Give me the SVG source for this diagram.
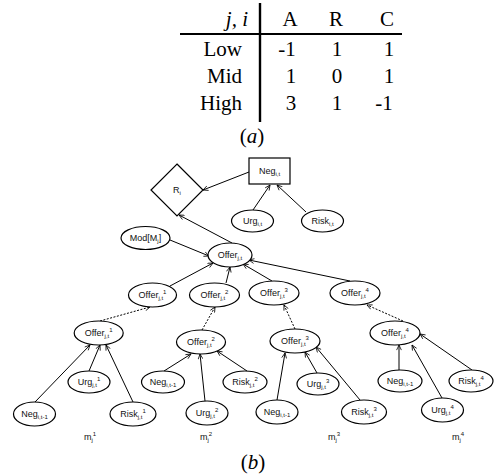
<svg xmlns="http://www.w3.org/2000/svg" width="495" height="476" viewBox="0 0 495 476">
<style>
.tb{font-family:"Liberation Serif","Times New Roman",serif;font-size:21px;fill:#000}
.cap{font-family:"Liberation Serif","Times New Roman",serif;font-size:21px;font-style:italic;fill:#000}
.n{fill:#fff;stroke:#000;stroke-width:1.2}
.t{font-family:"Liberation Sans",Arial,sans-serif;font-size:9px;fill:#111;text-anchor:middle}
.s{font-size:6px}
.e{fill:none;stroke:#000;stroke-width:1;marker-end:url(#ah)}
.d{stroke-dasharray:2,1.5}
</style>
<defs>
<marker id="ah" viewBox="0 0 10 10" refX="9.5" refY="5" markerWidth="6" markerHeight="6" orient="auto">
<path d="M1,1 L9.5,5 L1,9" fill="none" stroke="#000" stroke-width="1.3"/>
</marker>
</defs>
<g id="table">
<line x1="260" y1="3" x2="260" y2="122" stroke="#000" stroke-width="2.4"/>
<line x1="180" y1="34" x2="402" y2="34" stroke="#000" stroke-width="2.2"/>
<text class="cap" x="248" y="26" text-anchor="end">j, i</text>
<text class="tb" x="290" y="26" text-anchor="middle">A</text>
<text class="tb" x="336" y="26" text-anchor="middle">R</text>
<text class="tb" x="387" y="26" text-anchor="middle">C</text>
<text class="tb" x="242" y="56" text-anchor="end">Low</text>
<text class="tb" x="242" y="83" text-anchor="end">Mid</text>
<text class="tb" x="242" y="110" text-anchor="end">High</text>
<text class="tb" x="287" y="56" text-anchor="middle">-1</text>
<text class="tb" x="291" y="83" text-anchor="middle">1</text>
<text class="tb" x="291" y="110" text-anchor="middle">3</text>
<text class="tb" x="337" y="56" text-anchor="middle">1</text>
<text class="tb" x="337" y="83" text-anchor="middle">0</text>
<text class="tb" x="337" y="110" text-anchor="middle">1</text>
<text class="tb" x="389" y="56" text-anchor="middle">1</text>
<text class="tb" x="389" y="83" text-anchor="middle">1</text>
<text class="tb" x="384" y="110" text-anchor="middle">-1</text>
<text class="tb" x="252" y="143" text-anchor="middle">(<tspan font-style="italic">a</tspan>)</text>
</g>
<g id="connectors">
<line class="e" x1="249" y1="172" x2="203" y2="190"/>
<line class="e" x1="253" y1="210" x2="270" y2="185"/>
<line class="e" x1="306" y1="212" x2="277" y2="185"/>
<line class="e" x1="232" y1="243" x2="179" y2="215"/>
<line class="e" x1="170" y1="240" x2="209" y2="256"/>
<line class="e" x1="170" y1="286" x2="213" y2="263"/>
<line class="e" x1="226" y1="283" x2="230" y2="267"/>
<line class="e" x1="272" y1="281" x2="243" y2="264"/>
<line class="e" x1="350" y1="281" x2="249" y2="260"/>
<line class="e d" x1="100" y1="321" x2="150" y2="307"/>
<line class="e d" x1="202" y1="330" x2="215" y2="307"/>
<line class="e d" x1="295" y1="329" x2="284" y2="305"/>
<line class="e d" x1="403" y1="321" x2="367" y2="305"/>
<line class="e" x1="35" y1="402" x2="90" y2="345"/>
<line class="e" x1="89" y1="371" x2="100" y2="345"/>
<line class="e" x1="133" y1="402" x2="106" y2="345"/>
<line class="e" x1="164" y1="371" x2="191" y2="354"/>
<line class="e" x1="205" y1="401" x2="200" y2="354"/>
<line class="e" x1="247" y1="371" x2="217" y2="351"/>
<line class="e" x1="277" y1="400" x2="285" y2="353"/>
<line class="e" x1="317" y1="373" x2="305" y2="352"/>
<line class="e" x1="360" y1="400" x2="316" y2="347"/>
<line class="e" x1="399" y1="370" x2="399" y2="345"/>
<line class="e" x1="442" y1="398" x2="412" y2="345"/>
<line class="e" x1="472" y1="370" x2="420" y2="334"/>
</g>
<g id="neg_it"><rect class="n" x="249" y="158" width="41" height="26"/><text class="t" x="269.5" y="174">Neg<tspan class="s" dy="2">i,t</tspan></text></g>
<g id="R_i"><polygon class="n" points="177,164 203,190 177,216 151,190"/><text class="t" x="177" y="193">R<tspan class="s" dy="2">i</tspan></text></g>
<g id="urg_it"><ellipse class="n" cx="252.5" cy="221" rx="21" ry="11"/><text class="t" x="252.5" y="224">Urg<tspan class="s" dy="2">i,t</tspan></text></g>
<g id="risk_it"><ellipse class="n" cx="322.5" cy="221" rx="21" ry="11"/><text class="t" x="322.5" y="224">Risk<tspan class="s" dy="2">i,t</tspan></text></g>
<g id="mod"><ellipse class="n" cx="145.5" cy="238" rx="24.5" ry="11.5"/><text class="t" x="145.5" y="241">Mod[M<tspan class="s" dy="2">j</tspan><tspan dy="-2">]</tspan></text></g>
<g id="offer_jt"><ellipse class="n" cx="230" cy="255" rx="22" ry="12"/><text class="t" x="230" y="258">Offer<tspan class="s" dy="2">j,t</tspan></text></g>
<g id="o1"><ellipse class="n" cx="152.5" cy="295" rx="24" ry="12"/><text class="t" x="152.5" y="298">Offer<tspan class="s" dy="2">j,t</tspan><tspan class="s" dy="-6">1</tspan></text></g>
<g id="o2"><ellipse class="n" cx="214.5" cy="295" rx="25" ry="12"/><text class="t" x="214.5" y="298">Offer<tspan class="s" dy="2">j,t</tspan><tspan class="s" dy="-6">2</tspan></text></g>
<g id="o3"><ellipse class="n" cx="274" cy="293" rx="25" ry="12"/><text class="t" x="274" y="296">Offer<tspan class="s" dy="2">j,t</tspan><tspan class="s" dy="-6">3</tspan></text></g>
<g id="o4"><ellipse class="n" cx="355" cy="293" rx="25" ry="12"/><text class="t" x="355" y="296">Offer<tspan class="s" dy="2">j,t</tspan><tspan class="s" dy="-6">4</tspan></text></g>
<g id="p1"><ellipse class="n" cx="98.7" cy="333" rx="24.5" ry="12"/><text class="t" x="98.7" y="336">Offer<tspan class="s" dy="2">j,t</tspan><tspan class="s" dy="-6">1</tspan></text></g>
<g id="p2"><ellipse class="n" cx="201" cy="342" rx="24.5" ry="12"/><text class="t" x="201" y="345">Offer<tspan class="s" dy="2">j,t</tspan><tspan class="s" dy="-6">2</tspan></text></g>
<g id="p3"><ellipse class="n" cx="295" cy="341" rx="25" ry="12"/><text class="t" x="295" y="344">Offer<tspan class="s" dy="2">j,t</tspan><tspan class="s" dy="-6">3</tspan></text></g>
<g id="p4"><ellipse class="n" cx="395" cy="333" rx="25" ry="12"/><text class="t" x="395" y="336">Offer<tspan class="s" dy="2">j,t</tspan><tspan class="s" dy="-6">4</tspan></text></g>
<g id="neg1"><ellipse class="n" cx="34.5" cy="414" rx="21" ry="12"/><text class="t" x="34.5" y="417">Neg<tspan class="s" dy="2">i,t-1</tspan></text></g>
<g id="urg1"><ellipse class="n" cx="89" cy="382" rx="21" ry="11"/><text class="t" x="89" y="385">Urg<tspan class="s" dy="2">j,t</tspan><tspan class="s" dy="-6">1</tspan></text></g>
<g id="risk1"><ellipse class="n" cx="133" cy="414" rx="23" ry="12"/><text class="t" x="133" y="417">Risk<tspan class="s" dy="2">j,t</tspan><tspan class="s" dy="-6">1</tspan></text></g>
<g id="neg2"><ellipse class="n" cx="163" cy="382" rx="21.5" ry="11"/><text class="t" x="163" y="385">Neg<tspan class="s" dy="2">i,t-1</tspan></text></g>
<g id="urg2"><ellipse class="n" cx="207" cy="413" rx="21" ry="12"/><text class="t" x="207" y="416">Urg<tspan class="s" dy="2">j,t</tspan><tspan class="s" dy="-6">2</tspan></text></g>
<g id="risk2"><ellipse class="n" cx="245" cy="382" rx="22" ry="11"/><text class="t" x="245" y="385">Risk<tspan class="s" dy="2">j,t</tspan><tspan class="s" dy="-6">2</tspan></text></g>
<g id="neg3"><ellipse class="n" cx="277" cy="412" rx="21" ry="12"/><text class="t" x="277" y="415">Neg<tspan class="s" dy="2">i,t-1</tspan></text></g>
<g id="urg3"><ellipse class="n" cx="318" cy="384" rx="21" ry="11"/><text class="t" x="318" y="387">Urg<tspan class="s" dy="2">j,t</tspan><tspan class="s" dy="-6">3</tspan></text></g>
<g id="risk3"><ellipse class="n" cx="364" cy="412" rx="22.5" ry="12"/><text class="t" x="364" y="415">Risk<tspan class="s" dy="2">j,t</tspan><tspan class="s" dy="-6">3</tspan></text></g>
<g id="neg4"><ellipse class="n" cx="400" cy="381" rx="22" ry="11"/><text class="t" x="400" y="384">Neg<tspan class="s" dy="2">i,t-1</tspan></text></g>
<g id="urg4"><ellipse class="n" cx="442.5" cy="410" rx="21" ry="12"/><text class="t" x="442.5" y="413">Urg<tspan class="s" dy="2">j,t</tspan><tspan class="s" dy="-6">4</tspan></text></g>
<g id="risk4"><ellipse class="n" cx="471" cy="381" rx="22" ry="11"/><text class="t" x="471" y="384">Risk<tspan class="s" dy="2">j,t</tspan><tspan class="s" dy="-6">4</tspan></text></g>
<g id="labels">
<text class="t" x="90" y="440">m<tspan class="s" dy="2">j</tspan><tspan class="s" dy="-6">1</tspan></text>
<text class="t" x="206" y="440">m<tspan class="s" dy="2">j</tspan><tspan class="s" dy="-6">2</tspan></text>
<text class="t" x="334" y="440">m<tspan class="s" dy="2">j</tspan><tspan class="s" dy="-6">3</tspan></text>
<text class="t" x="458" y="440">m<tspan class="s" dy="2">j</tspan><tspan class="s" dy="-6">4</tspan></text>
<text class="tb" x="253" y="469" text-anchor="middle">(<tspan font-style="italic">b</tspan>)</text>
</g>
</svg>
